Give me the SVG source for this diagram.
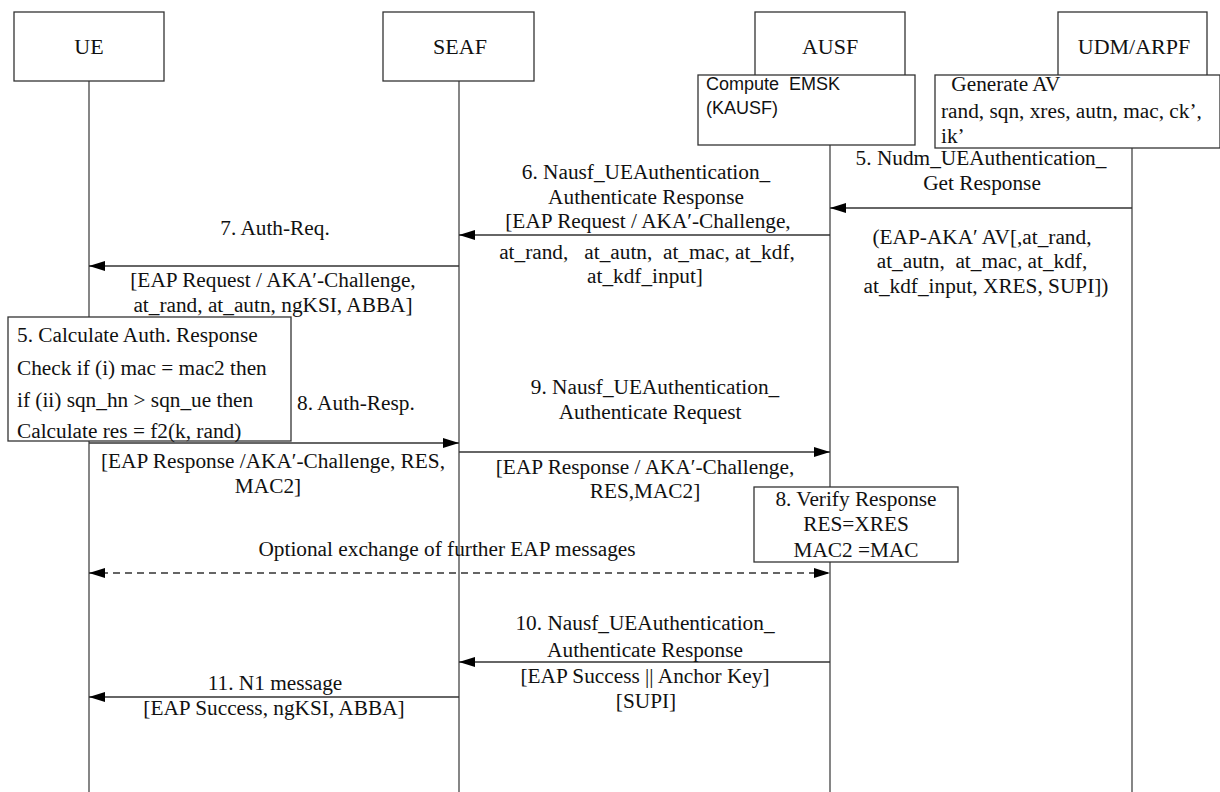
<svg xmlns="http://www.w3.org/2000/svg" width="1220" height="792" viewBox="0 0 1220 792">
<defs>
<marker id="ah" viewBox="0 0 16 10" refX="16" refY="5" markerWidth="16" markerHeight="10" markerUnits="userSpaceOnUse" orient="auto-start-reverse">
<path d="M0,0 L16,5 L0,10 Z" fill="#000"/>
</marker>
</defs>
<style>
.box{fill:#fff;stroke:#333;stroke-width:1.3}
.life{stroke:#444;stroke-width:1.3;fill:none}
.msg{stroke:#333;stroke-width:1.3;fill:none}
.dash{stroke:#333;stroke-width:1.3;fill:none;stroke-dasharray:7,5}
text{font-family:"Liberation Serif","Times New Roman",serif;font-size:21.3px;fill:#111}
.t{font-size:22px}
.c{text-anchor:middle}
.sans{font-family:"Liberation Sans",Arial,sans-serif;font-size:18px}
</style>
<rect width="1220" height="792" fill="#fff"/>
<g id="lifelines">
<line class="life" x1="89" y1="81" x2="89" y2="792"/>
<line class="life" x1="459" y1="81" x2="459" y2="792"/>
<line class="life" x1="830" y1="81" x2="830" y2="792"/>
<line class="life" x1="1132" y1="81" x2="1132" y2="792"/>
</g>
<g id="ue"><rect class="box" x="14" y="12" width="150" height="69"/><text class="c t" x="89" y="54">UE</text></g>
<g id="seaf"><rect class="box" x="383" y="12" width="151" height="69"/><text class="c t" x="460" y="54">SEAF</text></g>
<g id="ausf"><rect class="box" x="755" y="12" width="150" height="69"/><text class="c t" x="830" y="54">AUSF</text></g>
<g id="udm"><rect class="box" x="1058" y="12" width="149" height="69"/><text class="c t" x="1134" y="54">UDM/ARPF</text></g>
<g id="emsk"><rect class="box" x="698" y="75" width="217" height="70"/>
<text class="sans" x="706" y="90" xml:space="preserve">Compute  EMSK</text>
<text class="sans" x="706" y="114">(KAUSF)</text></g>
<g id="genav"><rect class="box" x="935" y="75" width="285" height="73"/>
<text x="946" y="91" xml:space="preserve"> Generate AV</text>
<text x="941" y="118">rand, sqn, xres, autn, mac, ck’,</text>
<text x="941" y="143">ik’</text></g>
<g id="calc"><rect class="box" x="8" y="317" width="283" height="124"/>
<text x="17" y="342">5. Calculate Auth. Response</text>
<text x="17" y="375">Check if (i) mac = mac2 then</text>
<text x="17" y="407">if (ii) sqn_hn &gt; sqn_ue then</text>
<text x="17" y="438">Calculate res = f2(k, rand)</text></g>
<g id="verify"><rect class="box" x="754" y="487" width="204" height="75"/>
<text class="c" x="856" y="506">8. Verify Response</text>
<text class="c" x="856" y="531">RES=XRES</text>
<text class="c" x="856" y="557">MAC2 =MAC</text></g>
<g id="connectors">
<line class="msg" x1="1132" y1="208" x2="830" y2="208" marker-end="url(#ah)"/>
<line class="msg" x1="830" y1="235" x2="459" y2="235" marker-end="url(#ah)"/>
<line class="msg" x1="459" y1="266" x2="89" y2="266" marker-end="url(#ah)"/>
<line class="msg" x1="89" y1="443" x2="459" y2="443" marker-end="url(#ah)"/>
<line class="msg" x1="459" y1="452" x2="830" y2="452" marker-end="url(#ah)"/>
<line class="dash" x1="89" y1="573" x2="830" y2="573" marker-start="url(#ah)" marker-end="url(#ah)"/>
<line class="msg" x1="830" y1="662" x2="459" y2="662" marker-end="url(#ah)"/>
<line class="msg" x1="459" y1="697" x2="89" y2="697" marker-end="url(#ah)"/>
</g>
<g id="labels">
<text class="c" x="981" y="165">5. Nudm_UEAuthentication_</text>
<text class="c" x="982" y="190">Get Response</text>
<text class="c" x="982" y="244">(EAP-AKA′ AV[,at_rand,</text>
<text class="c" x="982" y="268" xml:space="preserve">at_autn,  at_mac, at_kdf,</text>
<text class="c" x="986" y="293">at_kdf_input, XRES, SUPI])</text>
<text class="c" x="646" y="179">6. Nausf_UEAuthentication_</text>
<text class="c" x="646" y="204">Authenticate Response</text>
<text class="c" x="648" y="228">[EAP Request / AKA′-Challenge,</text>
<text class="c" x="647" y="259" xml:space="preserve">at_rand,   at_autn,  at_mac, at_kdf,</text>
<text class="c" x="645" y="283">at_kdf_input]</text>
<text class="c" x="275" y="235">7. Auth-Req.</text>
<text class="c" x="273" y="287">[EAP Request / AKA′-Challenge,</text>
<text class="c" x="273" y="312">at_rand, at_autn, ngKSI, ABBA]</text>
<text x="297" y="410">8. Auth-Resp.</text>
<text class="c" x="273" y="468">[EAP Response /AKA′-Challenge, RES,</text>
<text class="c" x="268" y="493">MAC2]</text>
<text class="c" x="655" y="394">9. Nausf_UEAuthentication_</text>
<text class="c" x="650" y="419">Authenticate Request</text>
<text class="c" x="645" y="474">[EAP Response / AKA′-Challenge,</text>
<text class="c" x="645" y="498">RES,MAC2]</text>
<text class="c" x="447" y="556">Optional exchange of further EAP messages</text>
<text class="c" x="645" y="630">10. Nausf_UEAuthentication_</text>
<text class="c" x="645" y="657">Authenticate Response</text>
<text class="c" x="645" y="683">[EAP Success || Anchor Key]</text>
<text class="c" x="646" y="708">[SUPI]</text>
<text class="c" x="275" y="690">11. N1 message</text>
<text class="c" x="274" y="715">[EAP Success, ngKSI, ABBA]</text>
</g>
</svg>
